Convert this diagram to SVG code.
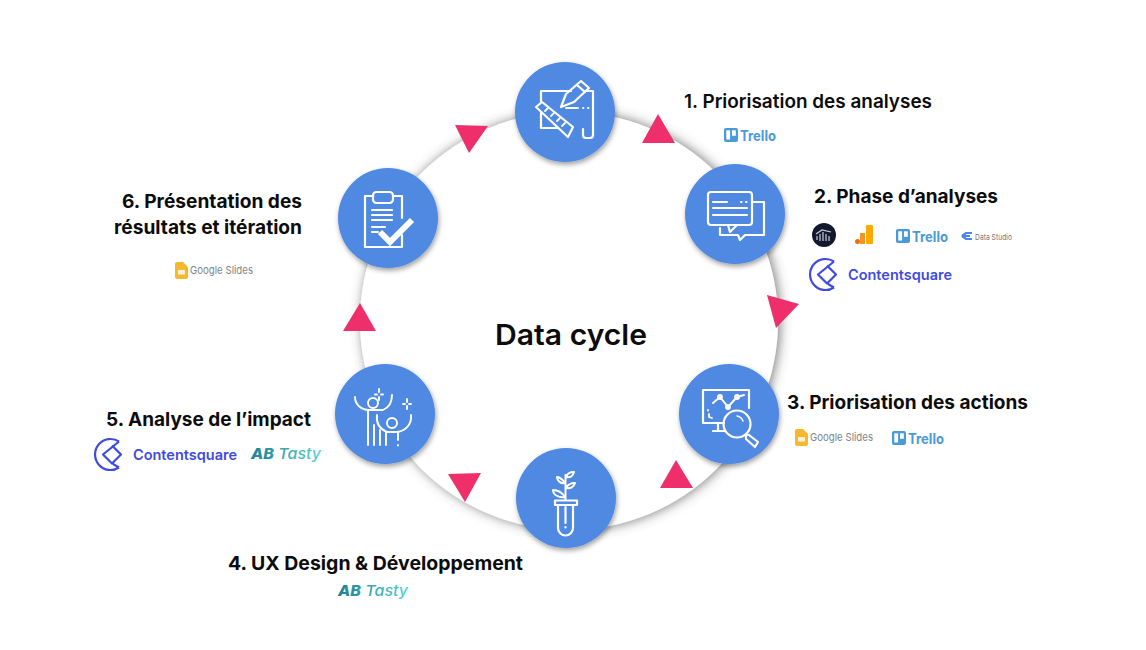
<svg xmlns="http://www.w3.org/2000/svg" width="1146" height="650" viewBox="0 0 1146 650">
<defs>
<filter id="ns" x="-30%" y="-30%" width="160%" height="160%"><feDropShadow dx="1" dy="2.500" stdDeviation="2.500" flood-color="#000" flood-opacity=".38"/></filter>
<filter id="rs" x="-10%" y="-10%" width="120%" height="120%"><feDropShadow dx="2" dy="0" stdDeviation="6" flood-color="#444" flood-opacity=".7"/></filter>
<linearGradient id="ab" x1="0" x2="1" y1="0" y2="0"><stop offset="0" stop-color="#1f7f96"/><stop offset="1" stop-color="#55d3cf"/></linearGradient>
<g id="trello"><rect x="0" y="0" width="14" height="14" rx="2" fill="#4a9ad8"/><rect x="2.300" y="2.300" width="3.800" height="9.200" fill="#fff"/><rect x="8" y="2.300" width="3.800" height="5.500" fill="#fff"/><text x="16" y="12.500" class="logo" font-size="14.500" fill="#4a9ad8" font-weight="700" textLength="36" lengthAdjust="spacingAndGlyphs">Trello</text></g>
<g id="slides"><path d="M0 2a2 2 0 0 1 2-2h6l5 5v10a2 2 0 0 1-2 2H2a2 2 0 0 1-2-2z" fill="#f6b92e"/><rect x="3" y="8" width="7" height="4.500" fill="#fff" opacity=".8"/><text x="15" y="12" class="logo" font-size="11" fill="#80858a" textLength="63" lengthAdjust="spacingAndGlyphs">Google Slides</text></g>
<g id="cs"><path d="M24 3.500A15.500 15.500 0 1 0 24 29.500M24 3.500L8 16.500 17 25.500 26 16.500 17 7.500M24 29.500L18 26" fill="none" stroke="#3f4be0" stroke-width="2.200" stroke-linejoin="round"/><text x="38" y="22" class="logo" font-size="14.500" font-weight="600" fill="#3f4be0" textLength="104" lengthAdjust="spacingAndGlyphs">Contentsquare</text></g>
</defs>
<style>
text{font-family:"Inter","Liberation Sans",sans-serif}
.lbl{font-size:19px;font-weight:700;fill:#0c0c0c}
.node{fill:#4f89e2;filter:url(#ns)}
.ic{fill:none;stroke:#fff;stroke-width:2.200;stroke-linejoin:round;stroke-linecap:round}
.tri{fill:#ee2f6b}
.abt{font-style:italic;font-size:15px;fill:url(#ab)}
</style>
<rect width="1146" height="650" fill="#fff"/>
<g id="connectors">
<circle cx="569" cy="321" r="209" fill="#fff" filter="url(#rs)"/>
<polygon class="tri" points="658,114 642,143 675,143"/>
<polygon class="tri" points="767,295 799,304 776,328"/>
<polygon class="tri" points="676,460 660,488 693,488"/>
<polygon class="tri" points="455,125 488,126 469,153"/>
<polygon class="tri" points="448,474 481,473 465,502"/>
<polygon class="tri" points="360,303 343,331 376,331"/>
</g>
<text id="title" x="571" y="345" text-anchor="middle" font-size="29" font-weight="600" fill="#0c0c0c" textLength="152" lengthAdjust="spacingAndGlyphs">Data cycle</text>
<g id="node1">
<circle class="node" cx="565" cy="112" r="50"/>
<g class="ic"><path d="M541 102V91H571M584 91H593V136M541 113V128H558M583 129v6a3 3 0 0 0 3 3h4a3 3 0 0 0 3-3"/><path d="M536 107L542 102L573 127L568 137Z"/><path d="M545 111l3-3M551 116l3-3M557 121l3-3M562 126l3-3" stroke-width="1.800"/><path d="M561 107L566 94L581 81L589 88L574 102ZM577 85l8 7"/><path d="M566 108H578M583 108h.5M588 108h.5" stroke-width="1.800"/></g>
</g>
<g id="node2">
<circle class="node" cx="735" cy="214" r="50"/>
<g class="ic"><rect x="708" y="192" width="44" height="33" rx="3"/><path d="M713 202h14M741 202h.5M746 202h.5M713 208h34M713 215h34"/><path d="M752 202h12v33h-19l-5 5-2-5h-18v-7"/><path d="M728 225l2 7 7-7"/></g>
</g>
<g id="node3">
<circle class="node" cx="729" cy="414" r="50"/>
<g class="ic"><path d="M749 408V390H703V423H724M718 423v7M713 431h11"/><path d="M713 403l7-6 8 10 9-10 7-2" stroke-width="2"/><circle cx="720" cy="397" r="1.800"/><circle cx="728" cy="407" r="1.800"/><circle cx="737" cy="397" r="1.800"/><path d="M708 410v.5M709 414v3l3 1" stroke-width="1.800"/><circle cx="737" cy="424" r="13.500"/><path d="M746 434l3 1 9 7-3 5-9-8z"/><path d="M737 416a8 8 0 0 1 6 5" stroke-width="1.500"/></g>
</g>
<g id="node4">
<circle class="node" cx="566" cy="498" r="50"/>
<g class="ic"><path d="M555 500.500H577V505H555ZM558 505V528a7.500 7.500 0 0 0 15 0V505M565.500 507V523M565.500 527v.5"/><path d="M565.500 500V475M565 483c-3-5-7-6-8-6 0 4 4 7 8 6zM565 497c-4-6-9-7-12-7 0 5 6 8 12 7zM566 477c1-3 4-5 8-5-1 4-4 6-8 5zM566 488c2-4 5-5 9-5-1 4-5 6-9 5z" stroke-width="2"/></g>
</g>
<g id="node5">
<circle class="node" cx="385" cy="414" r="50"/>
<g class="ic" style="stroke-width:1.900"><circle cx="373" cy="403" r="5"/><path d="M355 397c0 7 5 12 13 13M392 395c0 7-2 12-9 15H368V445M374 425V445M380 430V445M386 432V445"/><circle cx="392" cy="423" r="5"/><path d="M377 415c-1 8 3 14 10 17M411 415c1 8-4 15-13 17M398 432v8M398 445v.5M387 432h11"/><path d="M379 389v3M379 397v3M375 394.500h2M381 394.500h2M407 399v3M407 406v3M403 404h2M409 404h2"/></g>
</g>
<g id="node6">
<circle class="node" cx="388" cy="218" r="50"/>
<g class="ic"><path d="M373 196h-8v51h37V235M402 218V196h-9"/><rect x="373" y="192" width="20" height="11" rx="3.500"/><path d="M372 210h20M372 215h20M372 220h20M372 227h13M372 232h6"/></g>
<path d="M380 232L390 242L412 220" fill="none" stroke="#fff" stroke-width="6"/>
</g>
<g id="label1">
<text class="lbl" x="684" y="108" textLength="248" lengthAdjust="spacingAndGlyphs" style="font-weight:600">1. Priorisation des analyses</text>
<use href="#trello" x="724" y="128"/>
</g>
<g id="label2">
<text class="lbl" x="814" y="203" textLength="184" lengthAdjust="spacingAndGlyphs">2. Phase d’analyses</text>
<circle cx="824" cy="235" r="12" fill="#12182e"/><path d="M817 240v-4M820 241v-7M823 241v-9M826 241v-7M829 241v-5M816 234l6-4 9 2" fill="none" stroke="#ccd" stroke-width="1.200"/>
<rect x="855" y="239" width="5" height="5" rx="2.500" fill="#e8710a"/><rect x="860" y="233" width="5" height="11" fill="#f0932b"/><rect x="866" y="225" width="7" height="19" rx="1" fill="#f9ab00"/>
<use href="#trello" x="896" y="229"/>
<path d="M962 236l4-3h6M962 236l4 3h6M962 236h8" fill="none" stroke="#4a86e8" stroke-width="2.200"/>
<text x="975" y="239.500" class="logo" font-size="8" fill="#777" textLength="37" lengthAdjust="spacingAndGlyphs">Data Studio</text>
<use href="#cs" x="810" y="258"/>
</g>
<g id="label3">
<text class="lbl" x="787" y="409" textLength="241" lengthAdjust="spacingAndGlyphs">3. Priorisation des actions</text>
<use href="#slides" x="795" y="429"/>
<use href="#trello" x="892" y="431"/>
</g>
<g id="label4">
<text class="lbl" x="228" y="570" textLength="295" lengthAdjust="spacingAndGlyphs">4. UX Design &amp; Développement</text>
<text class="abt" x="338" y="596" textLength="70" lengthAdjust="spacingAndGlyphs"><tspan font-weight="800">AB</tspan> <tspan font-weight="500">Tasty</tspan></text>
</g>
<g id="label5">
<text class="lbl" x="106" y="426" textLength="205" lengthAdjust="spacingAndGlyphs">5. Analyse de l’impact</text>
<use href="#cs" x="95" y="438"/>
<text class="abt" x="251" y="459" textLength="70" lengthAdjust="spacingAndGlyphs"><tspan font-weight="800">AB</tspan> <tspan font-weight="500">Tasty</tspan></text>
</g>
<g id="label6">
<text class="lbl" x="302" y="208" text-anchor="end" textLength="180" lengthAdjust="spacingAndGlyphs">6. Présentation des</text>
<text class="lbl" x="302" y="234" text-anchor="end" textLength="188" lengthAdjust="spacingAndGlyphs">résultats et itération</text>
<use href="#slides" x="175" y="262"/>
</g>
</svg>
